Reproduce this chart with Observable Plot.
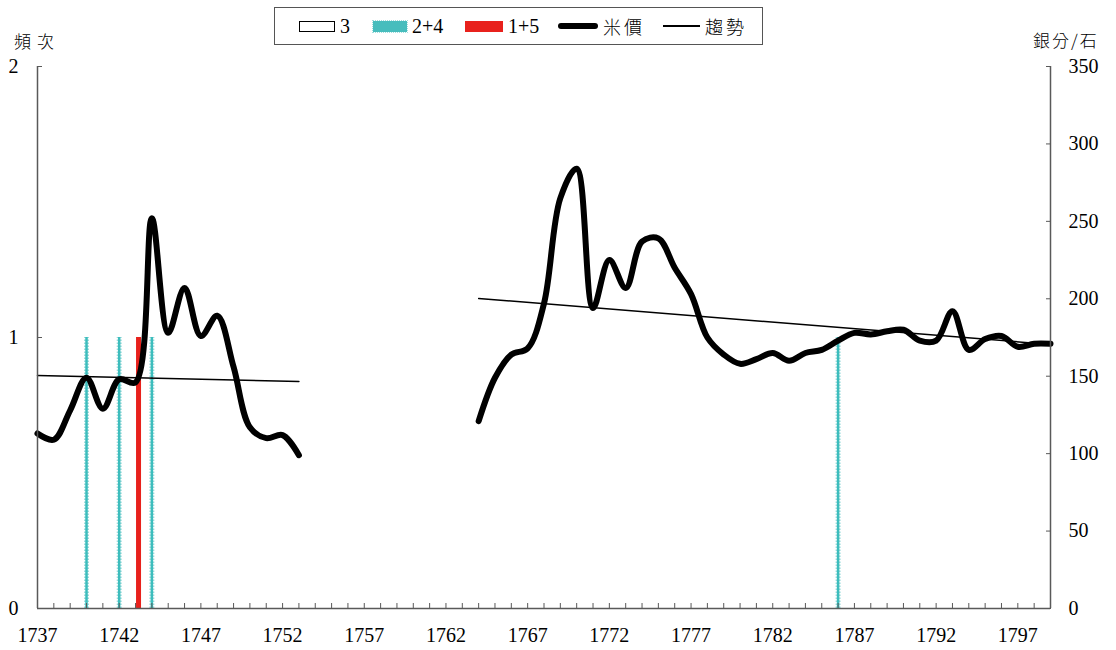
<!DOCTYPE html>
<html><head><meta charset="utf-8">
<script src="https://cdn.jsdelivr.net/npm/d3@7"></script>
<script src="https://cdn.jsdelivr.net/npm/@observablehq/plot@0.6"></script>
<style>
body{margin:0;background:#fff;}
#wrap{position:relative;width:1116px;height:650px;font-family:"Liberation Serif",serif;color:#000;}
#wrap svg{position:absolute;left:0;top:0;}
.abs{position:absolute;}
.t{position:absolute;top:26px;transform:translateY(-50%);line-height:1;font-size:20px;white-space:nowrap;}
.cjk{font-family:"Noto Sans CJK TC","Noto Sans CJK SC",sans-serif;font-weight:300;}
</style></head>
<body>
<div id="wrap"></div>
<script>
// ---- data ----
const years = d3.range(1737, 1800);
const prices = [
  113, 109, 128, 149, 129, 148, 146, 252, 178, 207, 176, 189, 156, 117, 110, 112, 99, // 1737-1753
  null, null, null, null, null, null, null, null, null, null,                       // 1754-1763
  121, 149, 164, 168, 197, 265, 284, 194, 225, 207, 237, 239, 220, 203, 175, 164, 158, 161, // 1764-1781
  165, 160, 165, 167, 173, 178, 177, 179, 180, 173, 173, 192, 167, 174, 176, 169, 171, 171  // 1782-1799
];
const freq24Years = [1740, 1742, 1744, 1786];
const freq24Values = [1, 1, 1, 1];
const freq15Years = [1743];
const freq15Values = [1];
const freq3Years = [];
const freq3Values = [];
const trendYears = [[1737, 1753], [1764, 1799]];
const trendValues = [[150.5, 146.6], [200.2, 170.5]];
const freqTicks = [0, 1, 2];
const priceTicks = [0, 50, 100, 150, 200, 250, 300, 350];
const labelYears = d3.range(1737, 1800, 5);
const freqMax = 2, priceMax = 350;
const k = priceMax / freqMax;

// ---- tables ----
const priceData = years.map((y, i) => ({year: y, price: prices[i]}));
const f24 = freq24Years.map((y, i) => ({year: y, f: freq24Values[i]}));
const f15 = freq15Years.map((y, i) => ({year: y, f: freq15Values[i]}));
const f3 = freq3Years.map((y, i) => ({year: y, f: freq3Values[i]}));
const trendData = trendYears.flatMap((ys, s) => ys.map((y, i) => ({seg: s, year: y, v: trendValues[s][i]})));

const axisColor = "#595959";
const chart = Plot.plot({
  width: 1116, height: 650,
  marginTop: 66, marginBottom: 42, marginLeft: 37, marginRight: 66,
  x: {domain: [1737, 1799]},
  y: {domain: [0, priceMax]},
  style: {fontFamily: "'Liberation Serif', serif", fontSize: "20px", color: "#000", background: "transparent", overflow: "visible"},
  marks: [
    Plot.ruleX(f3, {x: "year", y1: 0, y2: d => d.f * k, stroke: "#000", strokeWidth: 3}),
    Plot.ruleX(f24, {x: "year", y1: 0, y2: d => d.f * k, stroke: "#9fdcdc", strokeWidth: 5, strokeDasharray: "1.5,1.5"}),
    Plot.ruleX(f24, {x: "year", y1: 0, y2: d => d.f * k, stroke: "#3dbdbd", strokeWidth: 2.5}),
    Plot.ruleX(f15, {x: "year", y1: 0, y2: d => d.f * k, stroke: "#e8211c", strokeWidth: 5, dx: 3}),
    Plot.line(priceData, {x: "year", y: "price", curve: "catmull-rom", stroke: "#000", strokeWidth: 6, strokeLinejoin: "round", strokeLinecap: "round"}),
    Plot.line(trendData, {x: "year", y: "v", z: "seg", stroke: "#000", strokeWidth: 1.5}),
    Plot.ruleY([0], {stroke: axisColor, strokeWidth: 1.5}),
    Plot.ruleX([1737, 1799], {stroke: axisColor, strokeWidth: 1.5}),
    Plot.axisY({anchor: "left", ticks: freqTicks.map(v => v * k), tickFormat: d => String(d / k), tickSize: -5, tickPadding: 24, stroke: axisColor, label: null}),
    Plot.axisY({anchor: "right", ticks: priceTicks, tickFormat: d => String(d), tickSize: -5, tickPadding: 23, stroke: axisColor, label: null}),
    Plot.axisX({ticks: years, tickSize: -5, tickFormat: () => "", stroke: axisColor, label: null}),
    Plot.axisX({ticks: labelYears, tickSize: 0, tickPadding: 19, tickFormat: d => String(d), label: null})
  ]
});
const wrap = document.getElementById("wrap");
wrap.appendChild(chart);

// ---- legend & axis titles ----
const html = `
<div class="abs" style="left:274px;top:7px;width:489px;height:38px;border:1px solid #555;box-sizing:border-box;background:#fff"></div>
<div class="abs" style="left:299px;top:21px;width:36px;height:11px;border:1.5px solid #000;box-sizing:border-box;background:#fff"></div>
<div class="t" style="left:340px">3</div>
<div class="abs" style="left:373px;top:21px;width:34px;height:11px;background:#47bdbd;outline:1px dotted #9fdcdc"></div>
<div class="t" style="left:412px">2+4</div>
<div class="abs" style="left:465px;top:21px;width:38px;height:11px;background:#e8211c"></div>
<div class="t" style="left:508px">1+5</div>
<div class="abs" style="left:558px;top:23px;width:40px;height:6px;border-radius:3px;background:#000"></div>
<div class="t cjk" style="left:603px;font-size:18px;letter-spacing:3px">米價</div>
<div class="abs" style="left:663px;top:25px;width:37px;height:1.5px;background:#000"></div>
<div class="t cjk" style="left:705px;font-size:18px;letter-spacing:3px">趨勢</div>
<div class="t cjk" style="left:14px;top:40px;font-size:17px;letter-spacing:6px">頻次</div>
<div class="t cjk" style="left:1033px;top:39px;font-size:17px;letter-spacing:2px">銀分/石</div>
`;
wrap.insertAdjacentHTML("beforeend", html);
</script>
</body></html>
